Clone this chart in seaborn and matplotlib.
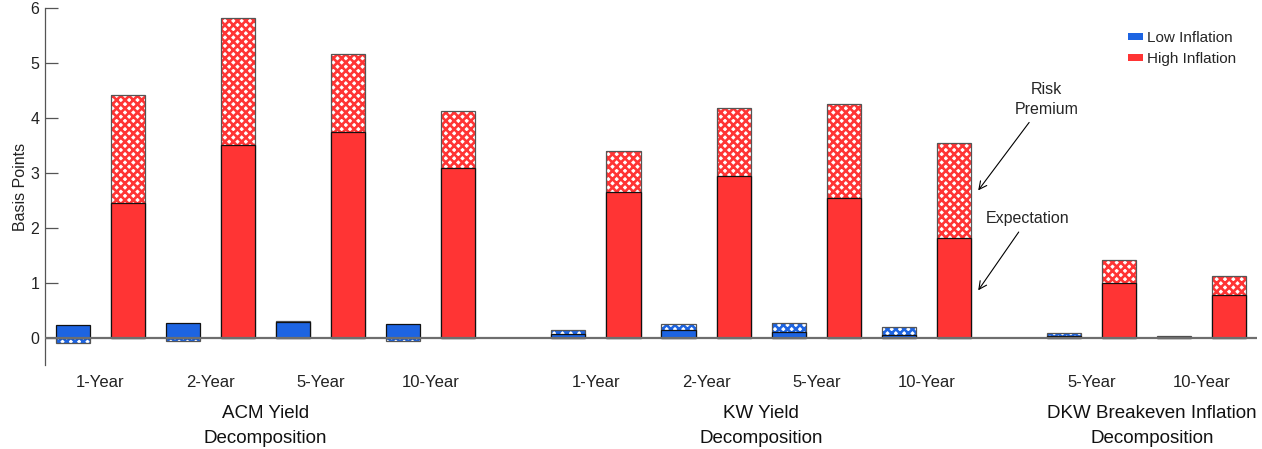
import numpy as np
import pandas as pd
import matplotlib
matplotlib.use("Agg")
import matplotlib.pyplot as plt
import seaborn as sns
from matplotlib.patches import Patch
from matplotlib.transforms import blended_transform_factory

# Maturity tick labels and the decomposition groups they belong to
maturities = ["1-Year", "2-Year", "5-Year", "10-Year",
              "1-Year", "2-Year", "5-Year", "10-Year",
              "5-Year", "10-Year"]
groups = ["ACM Yield\nDecomposition", "KW Yield\nDecomposition",
          "DKW Breakeven Inflation\nDecomposition"]
group_members = [[0, 1, 2, 3], [4, 5, 6, 7], [8, 9]]

# Expectation component (basis points)
low_expectation = [0.22, 0.27, 0.29, 0.24, 0.07, 0.13, 0.11, 0.05, 0.02, 0.01]
high_expectation = [2.45, 3.50, 3.74, 3.08, 2.65, 2.94, 2.54, 1.81, 1.00, 0.77]
# Risk premium component (basis points)
low_risk_premium = [-0.09, -0.07, 0.01, -0.06, 0.07, 0.12, 0.16, 0.14, 0.06, 0.02]
high_risk_premium = [1.97, 2.32, 1.42, 1.04, 0.75, 1.24, 1.71, 1.73, 0.42, 0.36]

BLUE = "#1d64e2"
RED = "#ff3434"

sns.set_theme(style="white")
plt.rcParams["font.family"] = ["Liberation Sans", "DejaVu Sans"]
plt.rcParams["hatch.linewidth"] = 1.9

# Category slots: groups separated by an extra half-slot gap
slots = np.array([0, 1, 2, 3, 4.5, 5.5, 6.5, 7.5, 9, 10])
offset = 0.25

fig = plt.figure(figsize=(12.62, 4.49), dpi=100)
ax = fig.add_axes([0.0357, 0.187, 0.9603, 0.795])


def stacked_top(exp, rp):
    exp = np.asarray(exp)
    rp = np.asarray(rp)
    # positive premia stack on the expectation, negative premia stack below zero
    return np.where(rp >= 0, exp + rp, rp)


def draw_layer(xpos, heights, style):
    n0 = len(ax.patches)
    sns.barplot(x=xpos, y=heights, native_scale=True, width=0.31,
                ax=ax, errorbar=None, color="white", zorder=2)
    for p in ax.patches[n0:]:
        style(p)


layers = [
    (slots - offset, low_expectation, low_risk_premium, BLUE),
    (slots + offset, high_expectation, high_risk_premium, RED),
]

for xpos, exp, rp, col in layers:
    tops = stacked_top(exp, rp)

    def hatched(p, col=col):
        p.set_facecolor("white")
        p.set_edgecolor(col)
        p.set_hatch("xxxx")
        p.set_linewidth(0)
        p.set_zorder(2)

    def outline(p):
        p.set_facecolor("none")
        p.set_edgecolor("#555555")
        p.set_linewidth(0.9)
        p.set_zorder(3)

    def solid(p, col=col):
        p.set_facecolor(col)
        p.set_edgecolor("#111111")
        p.set_linewidth(0.9)
        p.set_zorder(4)

    draw_layer(xpos, tops, hatched)
    draw_layer(xpos, tops, outline)
    draw_layer(xpos, exp, solid)

# Axes styling
ax.set_xlim(-0.5, 10.5)
ax.set_ylim(-0.5, 6)
ax.axhline(0, color="#6e6e6e", lw=1.6, zorder=5)
for s in ["top", "right", "bottom"]:
    ax.spines[s].set_visible(False)
ax.spines["left"].set_color("#555555")
ax.spines["left"].set_linewidth(0.9)
ax.set_yticks(range(0, 7))
ax.tick_params(axis="y", direction="in", length=9, width=0.9, color="#555555",
               labelsize=11.5, left=True, pad=4, labelcolor="#222222")
ax.set_xticks(slots)
ax.set_xticklabels(maturities, fontsize=12, color="#222222")
ax.tick_params(axis="x", length=0, pad=7)
ax.set_ylabel("Basis Points", fontsize=11.5, color="#222222", labelpad=2)
ax.set_xlabel("")

trans = blended_transform_factory(ax.transData, ax.transAxes)
for label, members in zip(groups, group_members):
    xc = slots[members].mean()
    if len(members) == 2:
        xc += 0.05
    ax.text(xc, -0.112, label, transform=trans, ha="center", va="top",
            fontsize=13.5, color="#111111", linespacing=1.6)

# Component annotations on the KW 10-year high-inflation bar
arrow = dict(arrowstyle="->", lw=0.8, color="black", shrinkA=2, shrinkB=0,
             mutation_scale=14)
ax.annotate("Risk\nPremium", xy=(7.97, 2.68), xytext=(8.59, 4.34),
            ha="center", va="center", fontsize=11.5, arrowprops=arrow,
            linespacing=1.45)
ax.annotate("Expectation", xy=(7.97, 0.86), xytext=(8.42, 2.16),
            ha="center", va="center", fontsize=11.5, arrowprops=arrow)

handles = [Patch(facecolor=BLUE, edgecolor="none", label="Low Inflation"),
           Patch(facecolor=RED, edgecolor="none", label="High Inflation")]
ax.legend(handles=handles, loc="upper right", frameon=False, fontsize=11,
          handlelength=0.95, handleheight=0.4, handletextpad=0.3,
          labelspacing=0.45, borderaxespad=0.0, bbox_to_anchor=(0.988, 0.953))

fig.savefig("out.png", dpi=100)
